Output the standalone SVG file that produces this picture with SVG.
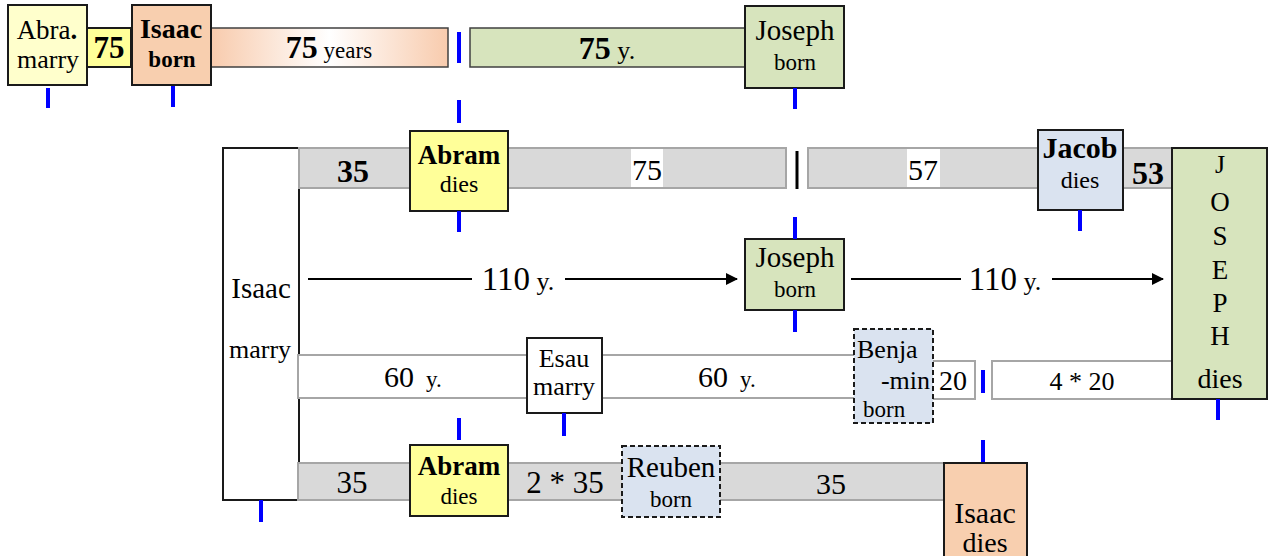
<svg xmlns="http://www.w3.org/2000/svg" width="1277" height="556" viewBox="0 0 1277 556" font-family="Liberation Serif, serif">
<defs>
<linearGradient id="peachGrad" x1="0" y1="0" x2="1" y2="0">
<stop offset="0" stop-color="#F8CBAD"/>
<stop offset="0.5" stop-color="#FFFFFF"/>
<stop offset="1" stop-color="#F8CBAD"/>
</linearGradient>
<marker id="arrow" viewBox="0 0 12 12" refX="11" refY="6" markerWidth="12" markerHeight="12" markerUnits="userSpaceOnUse" orient="auto">
<path d="M0,0 L12,6 L0,12 Z" fill="#000"/>
</marker>
<style>
text{font-family:'Liberation Serif',serif;fill:#000;text-anchor:middle}
.b{font-weight:bold}
.box{stroke:#1a1a1a;stroke-width:2}
.dash{stroke:#1a1a1a;stroke-width:2;stroke-dasharray:5,3}
.gbar{fill:#D9D9D9;stroke:#A6A6A6;stroke-width:2}
.wbar{fill:#FFFFFF;stroke:#A6A6A6;stroke-width:2}
.dbar{stroke:#404040;stroke-width:1.5}
.tick{stroke:#0000FF;stroke-width:4}
.conn{stroke:#000;stroke-width:2;fill:none}
.yel{fill:#FFFF99}
.lyel{fill:#FFFFCC}
.peach{fill:#F8CFAF}
.green{fill:#D7E4BD}
.blue{fill:#DAE3F0}
</style>
</defs>
<rect width="1277" height="556" fill="#FFFFFF"/>

<!-- Top row -->
<g id="bar-75-small"><rect class="box yel" x="87" y="28" width="44" height="39"/><text class="b" x="109" y="58" font-size="31">75</text></g>
<g id="abra-marry"><rect class="box lyel" x="8" y="5" width="79" height="80"/><text x="47" y="39" font-size="27">Abra<tspan class="b">.</tspan></text><text x="48" y="68" font-size="26">marry</text></g>
<g id="bar-75-years"><rect class="dbar" fill="url(#peachGrad)" x="211" y="28" width="237" height="39"/><text x="329" y="58"><tspan class="b" font-size="32">75</tspan><tspan font-size="23"> years</tspan></text></g>
<g id="isaac-born"><rect class="box peach" x="132" y="5" width="79" height="80"/><text class="b" x="171" y="38" font-size="28">Isaac</text><text class="b" x="172" y="67" font-size="23">born</text></g>
<g id="bar-75-y"><rect class="dbar green" x="470" y="28" width="276" height="39"/><text x="607" y="59"><tspan class="b" font-size="32">75</tspan><tspan font-size="26"> y.</tspan></text></g>
<g id="joseph-born-top"><rect class="box green" x="745" y="6" width="99" height="82"/><text x="795" y="40" font-size="29">Joseph</text><text x="795" y="70" font-size="23">born</text></g>

<!-- Tall Isaac box -->
<g id="isaac-marry"><rect class="box" fill="#FFFFFF" stroke-width="1.5" x="223" y="148" width="76" height="352"/><text x="261" y="298" font-size="29">Isaac</text><text x="260" y="358" font-size="26">marry</text></g>

<!-- Row 2 -->
<g id="bar-row2-a"><rect class="gbar" x="299" y="148" width="487" height="40"/><text class="b" x="353" y="182" font-size="32">35</text><rect x="631" y="149" width="32" height="38" fill="#FFFFFF"/><text x="647" y="180" font-size="30">75</text></g>
<g id="bar-row2-b"><rect class="gbar" x="808" y="148" width="364" height="40"/><rect x="907" y="149" width="33" height="38" fill="#FFFFFF"/><text x="923" y="180" font-size="30">57</text><text class="b" x="1148" y="184" font-size="32">53</text></g>
<g id="abram-dies-top"><rect class="box yel" x="410" y="131" width="98" height="80"/><text class="b" x="459" y="164" font-size="27">Abram</text><text x="459" y="192" font-size="24">dies</text></g>
<g id="jacob-dies"><rect class="box blue" x="1038" y="130" width="85" height="80"/><text class="b" x="1080" y="158" font-size="30">Jacob</text><text x="1080" y="188" font-size="24">dies</text></g>

<!-- Row 4 bars -->
<g id="bar-row4-a"><rect class="wbar" x="298" y="355" width="557" height="43"/><text x="413" y="387"><tspan font-size="30">60</tspan><tspan font-size="23" dx="12">y.</tspan></text><text x="727" y="387"><tspan font-size="30">60</tspan><tspan font-size="23" dx="12">y.</tspan></text></g>
<g id="bar-20"><rect class="wbar" x="931" y="361" width="44" height="38"/><text x="953" y="390" font-size="28">20</text></g>
<g id="bar-4x20"><rect class="wbar" x="992" y="361" width="180" height="38"/><text x="1082" y="390" font-size="26">4 * 20</text></g>
<g id="esau-marry"><rect class="box" fill="#FFFFFF" x="527" y="338" width="75" height="75"/><text x="564" y="367" font-size="26">Esau</text><text x="564" y="395" font-size="26">marry</text></g>
<g id="benjamin-born"><rect class="dash blue" x="854" y="329" width="79" height="94"/><text x="857" y="358" font-size="26" style="text-anchor:start">Benja</text><text x="930" y="389" font-size="26" style="text-anchor:end">-min</text><text x="863" y="417" font-size="23" style="text-anchor:start">born</text></g>

<!-- JOSEPH dies -->
<g id="joseph-dies"><rect class="box green" x="1172" y="148" width="95" height="251"/>
<text x="1220" y="173" font-size="26">J</text><text x="1220" y="211" font-size="27">O</text><text x="1220" y="245" font-size="27">S</text><text x="1220" y="279" font-size="27">E</text><text x="1220" y="312" font-size="27">P</text><text x="1220" y="345" font-size="27">H</text><text x="1220" y="388" font-size="28">dies</text></g>

<!-- Row 3 -->
<g id="joseph-born-mid"><rect class="box green" x="745" y="239" width="99" height="71"/><text x="795" y="267" font-size="29">Joseph</text><text x="795" y="297" font-size="23">born</text></g>

<!-- Row 5 -->
<g id="bar-row5"><rect class="gbar" x="298" y="463" width="646" height="37"/><text x="352" y="493" font-size="31">35</text><text x="565" y="493" font-size="31">2 * 35</text><text x="831" y="494" font-size="30">35</text></g>
<g id="abram-dies-bottom"><rect class="box yel" x="410" y="445" width="98" height="71"/><text class="b" x="459" y="475" font-size="27">Abram</text><text x="459" y="504" font-size="23">dies</text></g>
<g id="reuben-born"><rect class="dash blue" x="622" y="446" width="98" height="71"/><text x="671" y="477" font-size="29">Reuben</text><text x="671" y="507" font-size="23">born</text></g>
<g id="isaac-dies"><rect class="box peach" x="944" y="463" width="83" height="100"/><text x="985" y="523" font-size="30">Isaac</text><text x="985" y="552" font-size="28">dies</text></g>

<!-- Connectors -->
<g id="connectors">
<line class="conn" x1="308" y1="279" x2="472" y2="279"/>
<line class="conn" x1="565" y1="279" x2="737" y2="279" marker-end="url(#arrow)"/>
<text x="518" y="290"><tspan font-size="33">110</tspan><tspan font-size="26"> y.</tspan></text>
<line class="conn" x1="851" y1="279" x2="961" y2="279"/>
<line class="conn" x1="1052" y1="279" x2="1163" y2="279" marker-end="url(#arrow)"/>
<text x="1005" y="290"><tspan font-size="33">110</tspan><tspan font-size="26"> y.</tspan></text>
</g>

<!-- Tick marks -->
<g id="ticks">
<line class="tick" x1="48" y1="88" x2="48" y2="108"/>
<line class="tick" x1="173" y1="86" x2="173" y2="107"/>
<line class="tick" x1="459" y1="32" x2="459" y2="63"/>
<line class="tick" x1="459" y1="100" x2="459" y2="123"/>
<line class="tick" x1="795" y1="88" x2="795" y2="109"/>
<line class="tick" x1="459" y1="211" x2="459" y2="232"/>
<line class="tick" x1="1080" y1="210" x2="1080" y2="231"/>
<line class="tick" x1="795" y1="217" x2="795" y2="239"/>
<line class="tick" x1="795" y1="310" x2="795" y2="332"/>
<line class="tick" x1="459" y1="418" x2="459" y2="440"/>
<line class="tick" x1="564" y1="413" x2="564" y2="436"/>
<line class="tick" x1="983" y1="370" x2="983" y2="393"/>
<line class="tick" x1="1218" y1="399" x2="1218" y2="420"/>
<line class="tick" x1="983" y1="440" x2="983" y2="462"/>
<line class="tick" x1="261" y1="500" x2="261" y2="522"/>
<line x1="797" y1="151" x2="797" y2="189" stroke="#000" stroke-width="3"/>
</g>
</svg>
